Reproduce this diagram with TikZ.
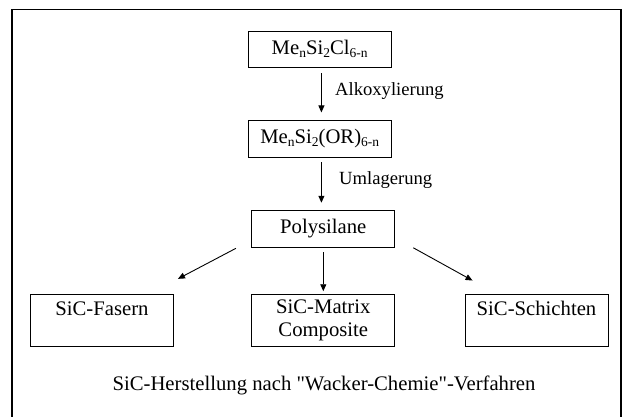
\documentclass[tikz,border=0pt]{standalone}
\usepackage{fontspec}
\setmainfont{Liberation Serif}
\usetikzlibrary{arrows.meta,calc}
\newcommand\mysub[1]{\raisebox{-0.32ex}{\fontsize{13.5}{14}\selectfont #1}}
\begin{document}
\begin{tikzpicture}[x=1pt,y=-1pt,
  box/.style={draw, line width=0.9pt, minimum width=143pt, minimum height=36.6pt, inner sep=0pt,
    font=\fontsize{20.7}{23.5}\selectfont, align=center},
  tallbox/.style={box, minimum height=52.4pt},
  arr/.style={line width=0.9pt, -{Triangle[length=7pt,width=6pt]}},
  lbl/.style={font=\fontsize{18.6}{20}\selectfont, anchor=west, inner sep=0pt},
  frame/.style={line width=1.4pt}]
\useasboundingbox (0,0) rectangle (626,417);
\draw[frame] (12,417) -- (12,9.5) -- (621,9.5) -- (621,417);

\node[box] (b1) at (319.7,49.3) {Me\mysub{n}Si\mysub{2}Cl\mysub{6-n}};
\node[box] (b2) at (319.7,138.7) {Me\mysub{n}Si\mysub{2}(OR)\mysub{6-n}};
\node[box] (b3) at (323.3,229) {Polysilane};
\node[tallbox] (b4) at (102,320.5) {SiC-Fasern\\ \mbox{}};
\node[tallbox] (b5) at (323.3,320.5) {SiC-Matrix\\Composite};
\node[tallbox] (b6) at (536.5,320.5) {SiC-Schichten\\ \mbox{}};

\draw[arr, shorten <=5pt, shorten >=7.5pt] ([xshift=1.7pt]b1.south) -- ([xshift=1.7pt]b2.north);
\node[lbl] (l1) at (335,91) {Alkoxylierung};
\draw[arr, shorten <=5pt, shorten >=7.5pt] ([xshift=1.7pt]b2.south) -- ([xshift=1.7pt]b2.south |- b3.north);
\node[lbl] (l2) at (339,180) {Umlagerung};

\coordinate (s4) at ($(b3.south west)+(-15.5,0.6)$);
\coordinate (e4) at ($(b4.north east)+(4,-15)$);
\draw[arr] (s4) -- (e4);
\draw[arr, shorten <=4.4pt, shorten >=2.6pt] (b3.south) -- (b5.north);
\coordinate (s6) at ($(b3.south east)+(18,0)$);
\coordinate (e6) at ($(b6.north west)+(8,-13.3)$);
\draw[arr] (s6) -- (e6);

\node[font=\fontsize{20.7}{23.5}\selectfont] (cap) at (324,385.7) {SiC-Herstellung nach \textquotedbl Wacker-Chemie\textquotedbl-Verfahren};
\end{tikzpicture}
\end{document}
